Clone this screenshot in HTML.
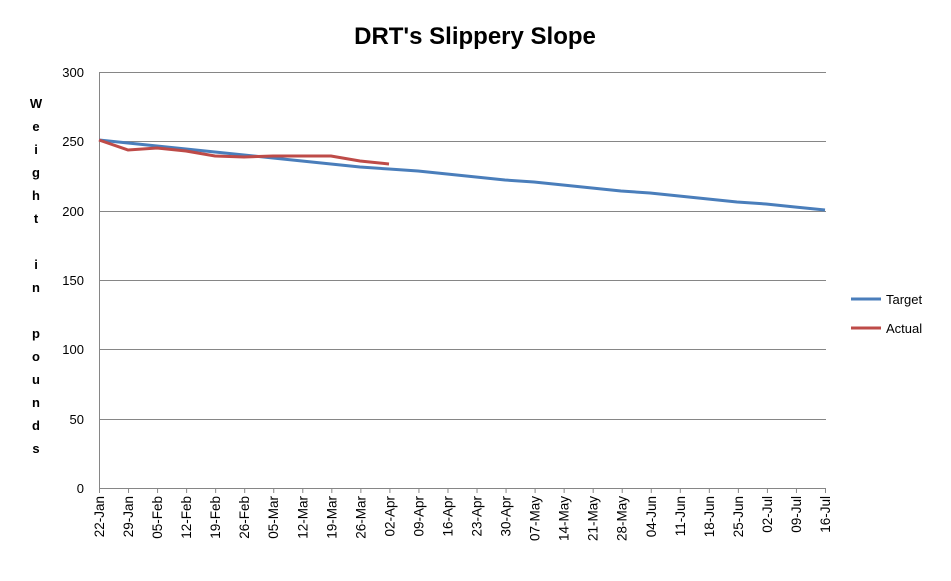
<!DOCTYPE html>
<html><head><meta charset="utf-8"><style>
body{margin:0;background:#fff;}
svg text{font-family:"Liberation Sans",sans-serif;fill:#000;}
</style></head><body>
<svg width="951" height="576" xmlns="http://www.w3.org/2000/svg">
<rect width="951" height="576" fill="#fff"/>
<text x="475" y="44" font-size="24" font-weight="bold" text-anchor="middle">DRT's Slippery Slope</text>
<g stroke="#868686" stroke-width="1">
<line x1="99" y1="72.5" x2="826" y2="72.5"/>
<line x1="99" y1="141.5" x2="826" y2="141.5"/>
<line x1="99" y1="211.5" x2="826" y2="211.5"/>
<line x1="99" y1="280.5" x2="826" y2="280.5"/>
<line x1="99" y1="349.5" x2="826" y2="349.5"/>
<line x1="99" y1="419.5" x2="826" y2="419.5"/>
<line x1="99" y1="488.5" x2="826" y2="488.5"/>
<line x1="99.5" y1="72" x2="99.5" y2="493"/>
</g>
<g font-size="13" text-anchor="end">
<text x="84" y="77">300</text><text x="84" y="146">250</text><text x="84" y="216">200</text>
<text x="84" y="285">150</text><text x="84" y="354">100</text><text x="84" y="424">50</text><text x="84" y="493">0</text>
</g>
<g font-size="13" font-weight="bold" text-anchor="middle">
<text x="36" y="108">W</text><text x="36" y="131">e</text><text x="36" y="154">i</text><text x="36" y="177">g</text><text x="36" y="200">h</text><text x="36" y="223">t</text>
<text x="36" y="269">i</text><text x="36" y="292">n</text>
<text x="36" y="338">p</text><text x="36" y="361">o</text><text x="36" y="384">u</text><text x="36" y="407">n</text><text x="36" y="430">d</text><text x="36" y="453">s</text>
</g>
<g id="ticks" stroke="#868686"></g>
<g id="xl" font-size="13.5"></g>
<polyline fill="none" stroke="#4a7ebb" stroke-width="3" points="99,140 128,143 157,146 186,149 215,152 244,155 273,158 302,161 331,164 360,167 389,169 418,171 447,174 476,177 505,180 534,182 563,185 592,188 621,191 650,193 679,196 708,199 737,202 766,204 795,207 825,210"/>
<polyline fill="none" stroke="#be4b48" stroke-width="3" points="99,140 128,150 157,148 186,151 215,156 244,157 273,156 302,156 331,156 360,161 389,164"/>
<line x1="851" y1="299" x2="881" y2="299" stroke="#4a7ebb" stroke-width="3"/>
<line x1="851" y1="328" x2="881" y2="328" stroke="#be4b48" stroke-width="3"/>
<text x="886" y="304" font-size="13">Target</text>
<text x="886" y="333" font-size="13">Actual</text>
</svg>
<script>
var l=["22-Jan","29-Jan","05-Feb","12-Feb","19-Feb","26-Feb","05-Mar","12-Mar","19-Mar","26-Mar","02-Apr","09-Apr","16-Apr","23-Apr","30-Apr","07-May","14-May","21-May","28-May","04-Jun","11-Jun","18-Jun","25-Jun","02-Jul","09-Jul","16-Jul"];
var ns="http://www.w3.org/2000/svg",t=document.getElementById("ticks"),g=document.getElementById("xl");
for(var i=0;i<26;i++){var x=99+i*29.04;
var ln=document.createElementNS(ns,"line");ln.setAttribute("x1",x+0.5);ln.setAttribute("x2",x+0.5);ln.setAttribute("y1",488);ln.setAttribute("y2",493);t.appendChild(ln);
var tx=document.createElementNS(ns,"text");tx.setAttribute("transform","translate("+(x+5)+",496) rotate(-90)");tx.setAttribute("text-anchor","end");tx.textContent=l[i];g.appendChild(tx);}
</script>
</body></html>
